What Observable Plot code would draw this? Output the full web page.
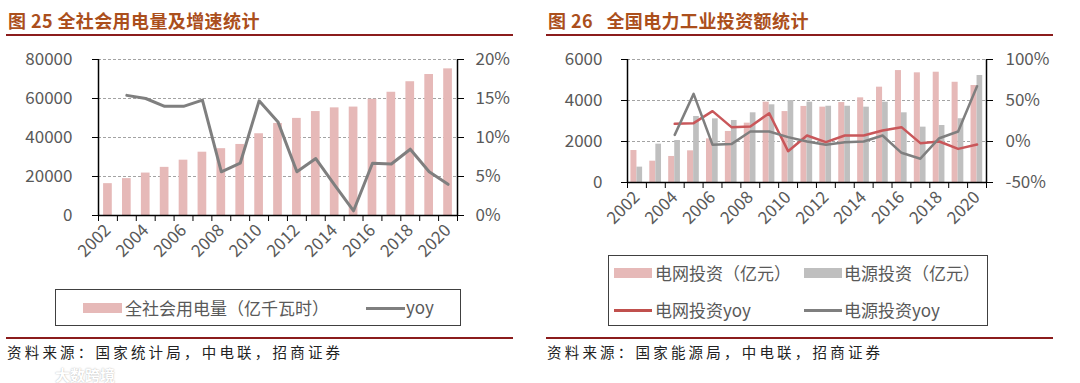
<!DOCTYPE html>
<html><head><meta charset="utf-8">
<script src="https://cdn.jsdelivr.net/npm/d3@7"></script>
<script src="https://cdn.jsdelivr.net/npm/@observablehq/plot@0.6"></script>
<style>
body{margin:0;width:1080px;height:383px;background:#fff;position:relative;overflow:hidden;font-family:"Noto Sans CJK SC","Noto Sans",sans-serif;}
.abs{position:absolute;}
.title{font-weight:700;font-size:18px;line-height:18px;color:#ab4f1c;top:11px;white-space:pre;letter-spacing:0.4px;}
.rule{height:2px;background:#8b1c1c;}
.box{border:1.5px solid #404040;box-sizing:border-box;}
.lt{font-size:17px;line-height:17px;color:#595959;white-space:pre;}
.src{font-size:14.5px;line-height:15px;letter-spacing:3.2px;color:#222;top:344px;white-space:pre;}
.wm{font-size:15px;line-height:15px;font-weight:700;color:#fff;text-shadow:0 0 1.5px rgba(0,0,0,0.35);top:367px;}
</style></head>
<body>
<div id="c1" class="abs" style="left:0;top:45px;"></div>
<div id="c2" class="abs" style="left:540px;top:45px;"></div>

<div class="abs title" style="left:8px;">图 25 全社会用电量及增速统计</div>
<div class="abs rule" style="left:6px;top:34px;width:507px;"></div>
<div class="abs title" style="left:548px;">图 26   全国电力工业投资额统计</div>
<div class="abs rule" style="left:546px;top:34px;width:507px;"></div>

<div class="abs box" style="left:55px;top:289px;width:406px;height:37px;"></div>
<div class="abs" style="left:83px;top:303px;width:39px;height:10px;background:#e6b9b8;"></div>
<div class="abs lt" style="left:125px;top:299px;">全社会用电量（亿千瓦时）</div>
<div class="abs" style="left:366px;top:307px;width:39px;height:3px;background:#7f7f7f;"></div>
<div class="abs lt" style="left:406px;top:298px;">yoy</div>

<div class="abs box" style="left:608px;top:255px;width:380px;height:71px;"></div>
<div class="abs" style="left:614px;top:268px;width:38px;height:10px;background:#e6b9b8;"></div>
<div class="abs lt" style="left:655px;top:264px;">电网投资（亿元）</div>
<div class="abs" style="left:804px;top:268px;width:38px;height:10px;background:#bfbfbf;"></div>
<div class="abs lt" style="left:844px;top:264px;">电源投资（亿元）</div>
<div class="abs" style="left:614px;top:309px;width:38px;height:3px;background:#c0504d;"></div>
<div class="abs lt" style="left:655px;top:301px;">电网投资yoy</div>
<div class="abs" style="left:804px;top:309px;width:38px;height:3px;background:#7f7f7f;"></div>
<div class="abs lt" style="left:844px;top:301px;">电源投资yoy</div>

<div class="abs rule" style="left:6px;top:337px;width:507px;"></div>
<div class="abs rule" style="left:546px;top:337px;width:507px;"></div>
<div class="abs src" style="left:7px;">资料来源：国家统计局，中电联，招商证券</div>
<div class="abs src" style="left:547px;">资料来源：国家能源局，中电联，招商证券</div>
<div class="abs wm" style="left:55px;">大数跨境</div>

<script>
const years = [2002,2003,2004,2005,2006,2007,2008,2009,2010,2011,2012,2013,2014,2015,2016,2017,2018,2019,2020];
const labelYears = [2002,2004,2006,2008,2010,2012,2014,2016,2018,2020];
// Chart 1
const consumption = [16330,18910,21760,24690,28370,32460,34270,36430,41920,47200,49800,53300,55200,55600,59600,63200,68600,72300,75200];
const consYoy = [null,15.4,15.0,14.0,14.0,14.8,5.6,6.7,14.7,12.0,5.6,7.3,3.9,0.6,6.7,6.6,8.5,5.6,4.0];
const leftTicks1 = [0,20000,40000,60000,80000];
const rightTicks1 = [0,5,10,15,20];
// Chart 2
const gridInv = [1560,1040,1270,1545,2130,2490,2895,3920,3460,3710,3675,3900,4130,4650,5460,5350,5380,4890,4730];
const powerInv = [750,1870,2050,3220,3105,3025,3400,3790,4000,3920,3720,3720,3675,3920,3400,2700,2780,3110,5220];
const gridYoy = [null,null,21.5,22.4,37,17.5,18.3,34.5,-11.8,7.3,-0.8,7.3,7.3,13.4,17.5,-2,0,-9,-3.7];
const powerYoy = [null,null,8.1,58.1,-4,-3.2,12.2,12.2,5.3,0,-4,-0.8,0,7.3,-13.8,-21,4,12.2,67.4];
const leftTicks2 = [0,2000,4000,6000];
const rightTicks2 = [-50,0,50,100];

const FONT = '"Noto Sans CJK SC","Noto Sans",sans-serif';
const bounds = years.map(y => y - 0.5).concat([years[years.length-1] + 0.5]);
const xdom = [bounds[0], bounds[bounds.length-1]];
const gridStyle = {stroke:"#8c8c8c", strokeOpacity:1, strokeDasharray:"3,2", strokeWidth:0.8};
const txt = "#595959";

// ---------- chart 1
const d1 = years.map((y,i)=>({year:y, v:consumption[i], yoy:consYoy[i]}));
const k1 = 80000/20;
const p1 = Plot.plot({
  width:540, height:240, marginTop:14, marginBottom:70, marginLeft:98, marginRight:83,
  x:{type:"linear", domain:xdom, label:null},
  y:{domain:[0,80000], label:null},
  style:{fontFamily:FONT, fontSize:"17px", background:"transparent", overflow:"visible"},
  marks:[
    Plot.gridY(leftTicks1, gridStyle),
    Plot.rectY(d1, {x1:d=>d.year-0.23, x2:d=>d.year+0.23, y:"v", fill:"#e6b9b8"}),
    Plot.line(d1.filter(d=>d.yoy!=null), {x:"year", y:d=>d.yoy*k1, stroke:"#7f7f7f", strokeWidth:3}),
    Plot.ruleX([xdom[0], xdom[1]], {stroke:"#000", strokeWidth:1.5}),
    Plot.ruleY([0], {stroke:"#000", strokeWidth:1.5}),
    Plot.axisY(leftTicks1, {anchor:"left", label:null, tickSize:6, tickPadding:20, stroke:"#000", fill:txt, fontSize:17, tickFormat:d=>String(d)}),
    Plot.axisY(rightTicks1.map(t=>t*k1), {anchor:"right", label:null, tickSize:6, tickPadding:12, stroke:"#000", fill:txt, fontSize:17, tickFormat:d=>Math.round(d/k1)+"%"}),
    Plot.axisX(bounds, {anchor:"bottom", label:null, tickSize:6, stroke:"#000", tickFormat:()=>""}),
    Plot.axisX(labelYears, {anchor:"bottom", label:null, tickSize:0, tickRotate:-45, tickPadding:12, fill:txt, fontSize:17, tickFormat:d=>String(d)})
  ]
});
document.getElementById("c1").appendChild(p1);

// ---------- chart 2
const d2 = years.map((y,i)=>({year:y, g:gridInv[i], p:powerInv[i], gy:gridYoy[i], py:powerYoy[i]}));
const k2 = y => (y + 50) * 40;
const ik2 = v => v / 40 - 50;
const p2 = Plot.plot({
  width:540, height:200, marginTop:14, marginBottom:63, marginLeft:87, marginRight:94,
  x:{type:"linear", domain:xdom, label:null},
  y:{domain:[0,6000], label:null},
  style:{fontFamily:FONT, fontSize:"17px", background:"transparent", overflow:"visible"},
  marks:[
    Plot.gridY(leftTicks2, gridStyle),
    Plot.rectY(d2, {x1:d=>d.year-0.32, x2:d=>d.year, y:"g", fill:"#e6b9b8"}),
    Plot.rectY(d2, {x1:d=>d.year, x2:d=>d.year+0.30, y:"p", fill:"#bfbfbf"}),
    Plot.line(d2.filter(d=>d.gy!=null), {x:"year", y:d=>k2(d.gy), stroke:"#c9575a", strokeWidth:2.5}),
    Plot.line(d2.filter(d=>d.py!=null), {x:"year", y:d=>k2(d.py), stroke:"#7f7f7f", strokeWidth:2.5}),
    Plot.ruleX([xdom[0], xdom[1]], {stroke:"#000", strokeWidth:1.5}),
    Plot.ruleY([0], {stroke:"#000", strokeWidth:1.5}),
    Plot.axisY(leftTicks2, {anchor:"left", label:null, tickSize:6, tickPadding:19, stroke:"#000", fill:txt, fontSize:17, tickFormat:d=>String(d)}),
    Plot.axisY(rightTicks2.map(k2), {anchor:"right", label:null, tickSize:6, tickPadding:13, stroke:"#000", fill:txt, fontSize:17, tickFormat:d=>Math.round(ik2(d))+"%"}),
    Plot.axisX(bounds, {anchor:"bottom", label:null, tickSize:6, stroke:"#000", tickFormat:()=>""}),
    Plot.axisX(labelYears, {anchor:"bottom", label:null, tickSize:0, tickRotate:-45, tickPadding:12, fill:txt, fontSize:17, tickFormat:d=>String(d)})
  ]
});
document.getElementById("c2").appendChild(p2);
</script>
</body></html>
